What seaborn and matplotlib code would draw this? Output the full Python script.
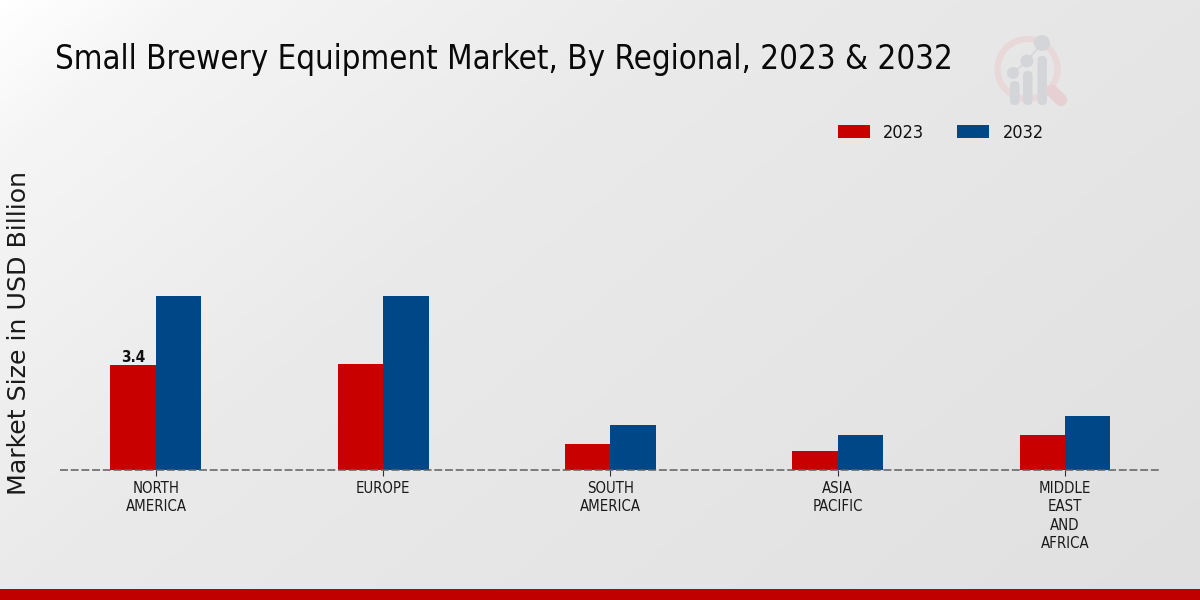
import numpy as np
import pandas as pd
import matplotlib.pyplot as plt
from matplotlib.colors import LinearSegmentedColormap
from matplotlib.patches import Circle, FancyBboxPatch, Rectangle
import seaborn as sns

regions = ['NORTH\nAMERICA', 'EUROPE', 'SOUTH\nAMERICA', 'ASIA\nPACIFIC', 'MIDDLE\nEAST\nAND\nAFRICA']
values_2023 = [3.4, 3.43, 0.84, 0.61, 1.13]
values_2032 = [5.63, 5.63, 1.46, 1.13, 1.75]
point_labels_2023 = ['3.4', '', '', '', '']

RED = '#c80000'
BLUE = '#004787'

df = pd.DataFrame({
    'region': regions * 2,
    'year': ['2023'] * 5 + ['2032'] * 5,
    'value': values_2023 + values_2032,
})

sns.set_theme(style='white')
plt.rcParams['font.family'] = ['DejaVu Sans']

fig = plt.figure(figsize=(12, 6), dpi=100)

# Background layer in pixel coordinates: gradient, logo, bottom strip
bg = fig.add_axes([0, 0, 1, 1], zorder=0)
bg.set_xlim(0, 1200)
bg.set_ylim(600, 0)
bg.axis('off')
xx, yy = np.meshgrid(np.linspace(0, 1, 300), np.linspace(0, 1, 150))
grad = (xx + 0.6 * yy) / 1.6
cmap = LinearSegmentedColormap.from_list(
    'bg', [(0, '#ffffff'), (0.1, '#f5f5f5'), (0.375, '#eaeaea'), (0.625, '#e6e6e6'), (1, '#e0e0e0')])
bg.imshow(grad, cmap=cmap, extent=(0, 1200, 600, 0), aspect='auto', vmin=0, vmax=1)
bg.add_patch(Rectangle((0, 589), 1200, 11, color='#c00000', lw=0))

# faint logo
bg.plot([1052, 1061], [91, 100], color='#e6d0d3', lw=9, solid_capstyle='round')
bg.add_patch(Circle((1027.5, 69), 30, fill=False, ec='#e8d8da', lw=4.5))
for x0, top in [(1010, 81), (1023, 71), (1037.5, 56)]:
    bg.add_patch(FancyBboxPatch((x0, top), 9.5, 105 - top, boxstyle='round,pad=0,rounding_size=4.5',
                                fc='#d4d5d9', ec='none'))
bg.plot([1013, 1027, 1042], [73, 61, 43], color='#d4d5d9', lw=1)
for cx, cy, r in [(1013, 73, 6), (1027, 61, 6.5), (1042, 43, 8)]:
    bg.add_patch(Circle((cx, cy), r, fc='#d4d5d9', ec='none'))

ax = fig.add_axes([60 / 1200, 130 / 600, 1100 / 1200, 352 / 600], zorder=1)
ax.patch.set_alpha(0)
sns.barplot(data=df, x='region', y='value', hue='year', palette=[RED, BLUE],
            width=0.4, gap=0, saturation=1, errorbar=None, linewidth=0, ax=ax)
ax.set_xlim(-0.422, 4.418)
ax.set_ylim(0, 11.39)
ax.set_yticks([])
ax.set_xlabel('')
ax.set_ylabel('')
sns.despine(ax=ax, left=True, bottom=True)

ax.axhline(0, color='#5f5f5f', lw=1.1, ls=(0, (5.2, 1.8)), zorder=5, clip_on=False)
ax.tick_params(axis='x', bottom=True, length=4, width=0.8, color='#333333', pad=4)
for lab in ax.get_xticklabels():
    lab.set_fontsize(10.7)
    lab.set_stretch('condensed')
    lab.set_color('#1a1a1a')
    lab.set_linespacing(1.28)

ax.bar_label(ax.containers[0], labels=point_labels_2023, padding=0, fontsize=11,
             fontweight='bold', stretch='condensed', color='#111111')

sns.move_legend(ax, 'center left', bbox_to_anchor=(838 / 1200, 467.5 / 600),
                bbox_transform=fig.transFigure, ncol=2, title=None, frameon=False,
                fontsize=13, borderpad=0, borderaxespad=0, handlelength=1.77,
                handleheight=0.72, handletextpad=0.72, columnspacing=1.85)
for t in ax.get_legend().get_texts():
    t.set_stretch('condensed')
    t.set_color('#111111')

fig.text(55 / 1200, 1 - 59 / 600, 'Small Brewery Equipment Market, By Regional, 2023 & 2032',
         fontsize=23.7, stretch='condensed', color='#0a0a0a', ha='left', va='center')
fig.text(19 / 1200, 1 - 333 / 600, 'Market Size in USD Billion', fontsize=18.2,
         rotation=90, color='#1a1a1a', ha='center', va='center')

fig.savefig('out.png', dpi=100)
plt.close(fig)
